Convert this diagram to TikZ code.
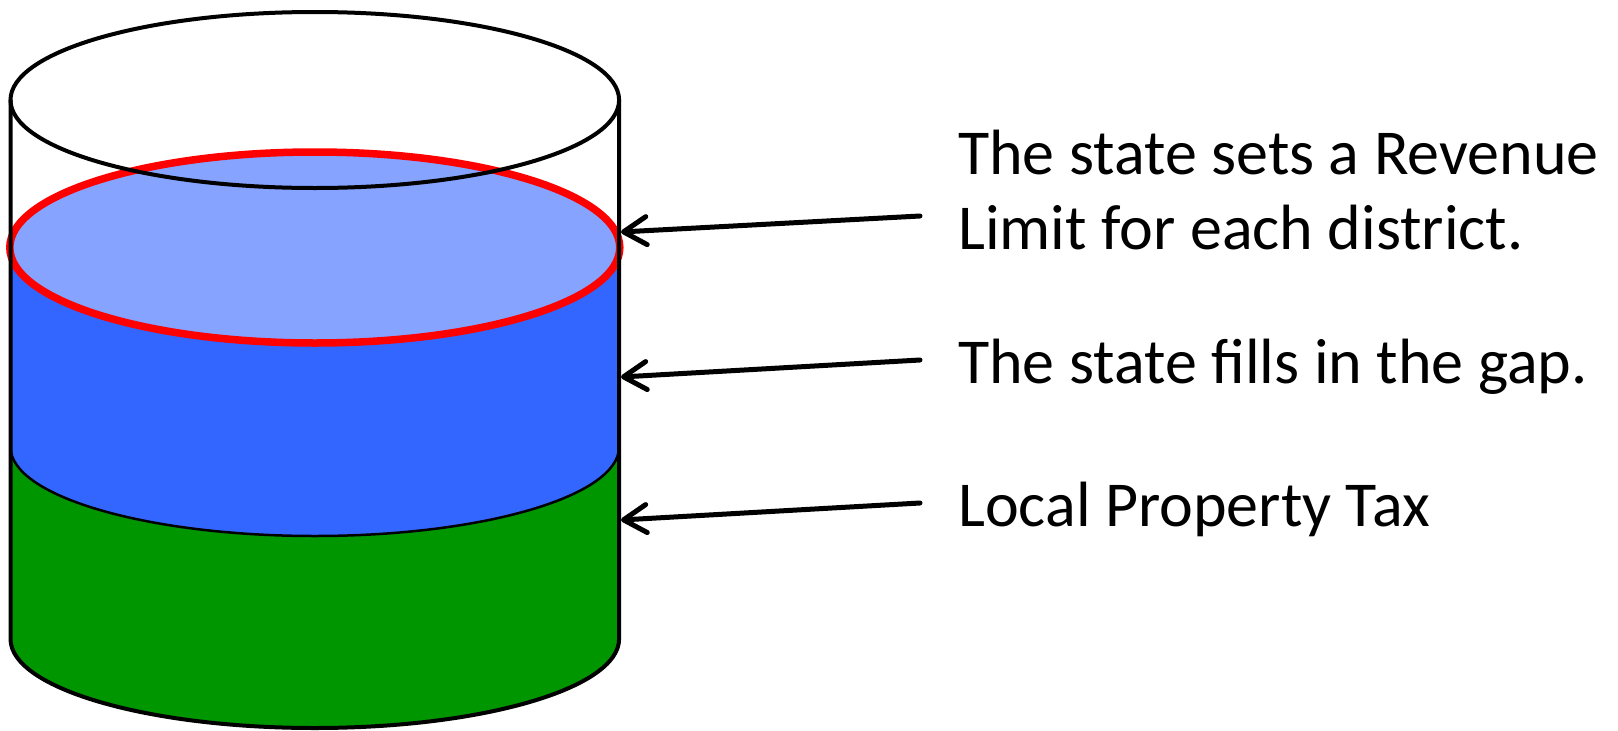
\documentclass[tikz,border=0pt]{standalone}
\usepackage{fontspec}
\setmainfont{Carlito}
\usetikzlibrary{arrows.meta}
\definecolor{lightblue}{RGB}{133,163,255}
\definecolor{midblue}{RGB}{51,102,255}
\definecolor{darkgreen}{RGB}{0,150,0}
\tikzset{
  outline/.style={draw=black, line width=4pt},
  thinline/.style={draw=black, line width=2.5pt},
  lbl/.style={inner sep=0pt, align=left, font=\fontsize{64}{75}\selectfont},
  pointer/.style={draw=black, line width=5pt, line cap=round,
    -{Straight Barb[length=23pt,width=28pt,round]}}
}
\begin{document}
\begin{tikzpicture}[x=1pt,y=-1pt]
\useasboundingbox (0,0) rectangle (1618,731);
% green layer
\fill[darkgreen] (10.5,447) -- (10.5,639) arc[start angle=180,end angle=360,x radius=304.3pt,y radius=89pt] -- (619.1,447) -- cycle;
% blue layer
\fill[midblue] (10.5,247) -- (10.5,447) arc[start angle=180,end angle=360,x radius=304.3pt,y radius=89pt] -- (619.1,247) -- cycle;
\draw[thinline] (10.5,447) arc[start angle=180,end angle=360,x radius=304.3pt,y radius=89pt];
% revenue limit surface
\draw[fill=lightblue, draw=red, line width=7.5pt] (314.8,247.5) ellipse[x radius=305pt, y radius=95.5pt];
% top rim
\draw[outline] (314.8,100) ellipse[x radius=304.3pt, y radius=88pt];
% sides and bottom
\draw[outline] (10.5,100) -- (10.5,639) arc[start angle=180,end angle=360,x radius=304.3pt,y radius=89pt] -- (619.1,100);
% labels
\node[lbl, anchor=base west] (t1) at (958,249) {The state sets a Revenue\\Limit for each district.};
\node[lbl, anchor=base west] (t2) at (958,383) {The state fills in the gap.};
\node[lbl, anchor=base west] (t3) at (958,526) {Local Property Tax};
% arrows
\coordinate (s1) at (920,216);
\coordinate (e1) at (621,232);
\coordinate (s2) at (920,360);
\coordinate (e2) at (621,377);
\coordinate (s3) at (920,503);
\coordinate (e3) at (621,520);
\draw[pointer] (s1) -- (e1);
\draw[pointer] (s2) -- (e2);
\draw[pointer] (s3) -- (e3);
\end{tikzpicture}
\end{document}
